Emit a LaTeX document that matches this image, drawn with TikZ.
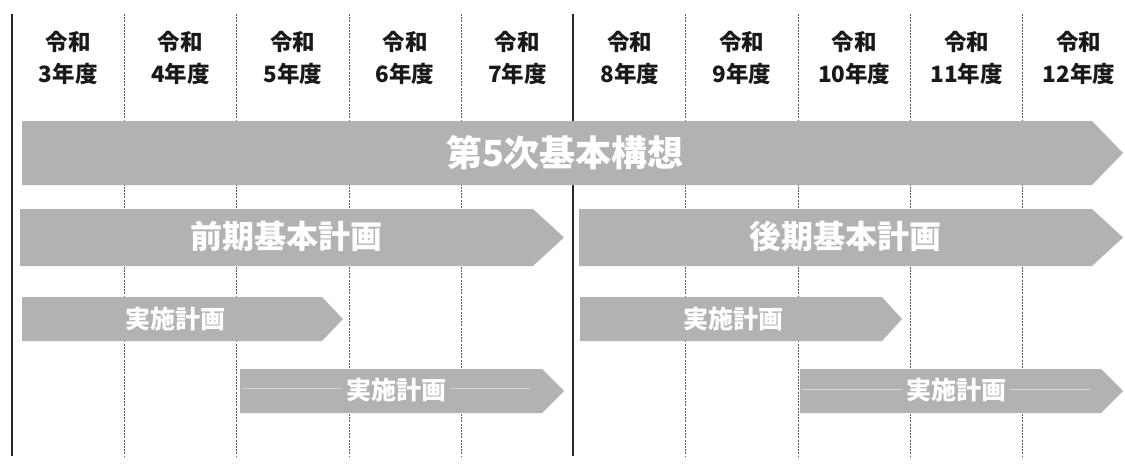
\documentclass[tikz,border=0pt]{standalone}
\usepackage{fontspec}
\setmainfont{Noto Sans CJK JP}
\newfontfamily\jp{Noto Sans CJK JP}
\newcommand\arrowbar[5]{\fill[barfill] (#1,#2) -- (#4,#2) -- (#5,{(#2+#3)/2}) -- (#4,#3) -- (#1,#3) -- cycle;}
\begin{document}
\begin{tikzpicture}[x=1pt,y=-1pt,
  barfill/.style={fill=black!30},
  solidline/.style={line width=1.6pt,black!85},
  dashline/.style={line width=0.8pt,black!65,dash pattern=on 2pt off 1.2pt},
  head/.style={inner sep=0pt,font=\jp\fontsize{22.5}{22.5}\selectfont\bfseries,align=center,text=black!90},
  big/.style={inner sep=0pt,text=white,font=\jp\fontsize{36}{36}\selectfont\bfseries},
  mid/.style={inner sep=0pt,text=white,font=\jp\fontsize{32}{32}\selectfont\bfseries},
  small/.style={inner sep=0pt,text=white,font=\jp\fontsize{25}{25}\selectfont\bfseries},
  streak/.style={line width=0.8pt,white!85!black}]
\useasboundingbox (0,0) rectangle (1125,471);
% grid lines
\foreach \k in {1,2,3,4,6,7,8,9}{
  \draw[dashline] ({12+112.3*\k},14) -- ({12+112.3*\k},456);
}
\draw[solidline] (12,14) -- (12,456);
\draw[solidline] (573,14) -- (573,456);
% headers
\foreach \n [count=\i from 0] in {3,4,5,6,7,8,9,10,11,12}{
  \node[head] (r\i) at ({12+112.3*(\i+0.5)},42) {令和};
  \node[head] (y\i) at ({12+112.3*(\i+0.5)},74) {\n 年度};
}
% bars
\arrowbar{22}{121}{185}{1092}{1123}
\arrowbar{20}{209}{266}{533}{564}
\arrowbar{579}{209}{266}{1092}{1123}
\arrowbar{22}{297}{341}{322}{343}
\arrowbar{240}{369}{413}{542}{564}
\arrowbar{580}{297}{341}{882}{902}
\arrowbar{800}{369}{413}{1101}{1123}
% faint streaks
\draw[streak] (242,388) -- (530,388);
\draw[streak] (802,389) -- (1090,389);
\fill[barfill] (342,380) rectangle (450,398);
\fill[barfill] (902,380) rectangle (1010,398);
% labels
\node[big] (kousou) at (565,153) {第5次基本構想};
\node[mid] (zenki) at (286,236) {前期基本計画};
\node[mid] (kouki) at (845,236) {後期基本計画};
\node[small] (j1) at (175,319) {実施計画};
\node[small] (j2) at (396,390) {実施計画};
\node[small] (j3) at (733,319) {実施計画};
\node[small] (j4) at (956,390) {実施計画};
\end{tikzpicture}
\end{document}
